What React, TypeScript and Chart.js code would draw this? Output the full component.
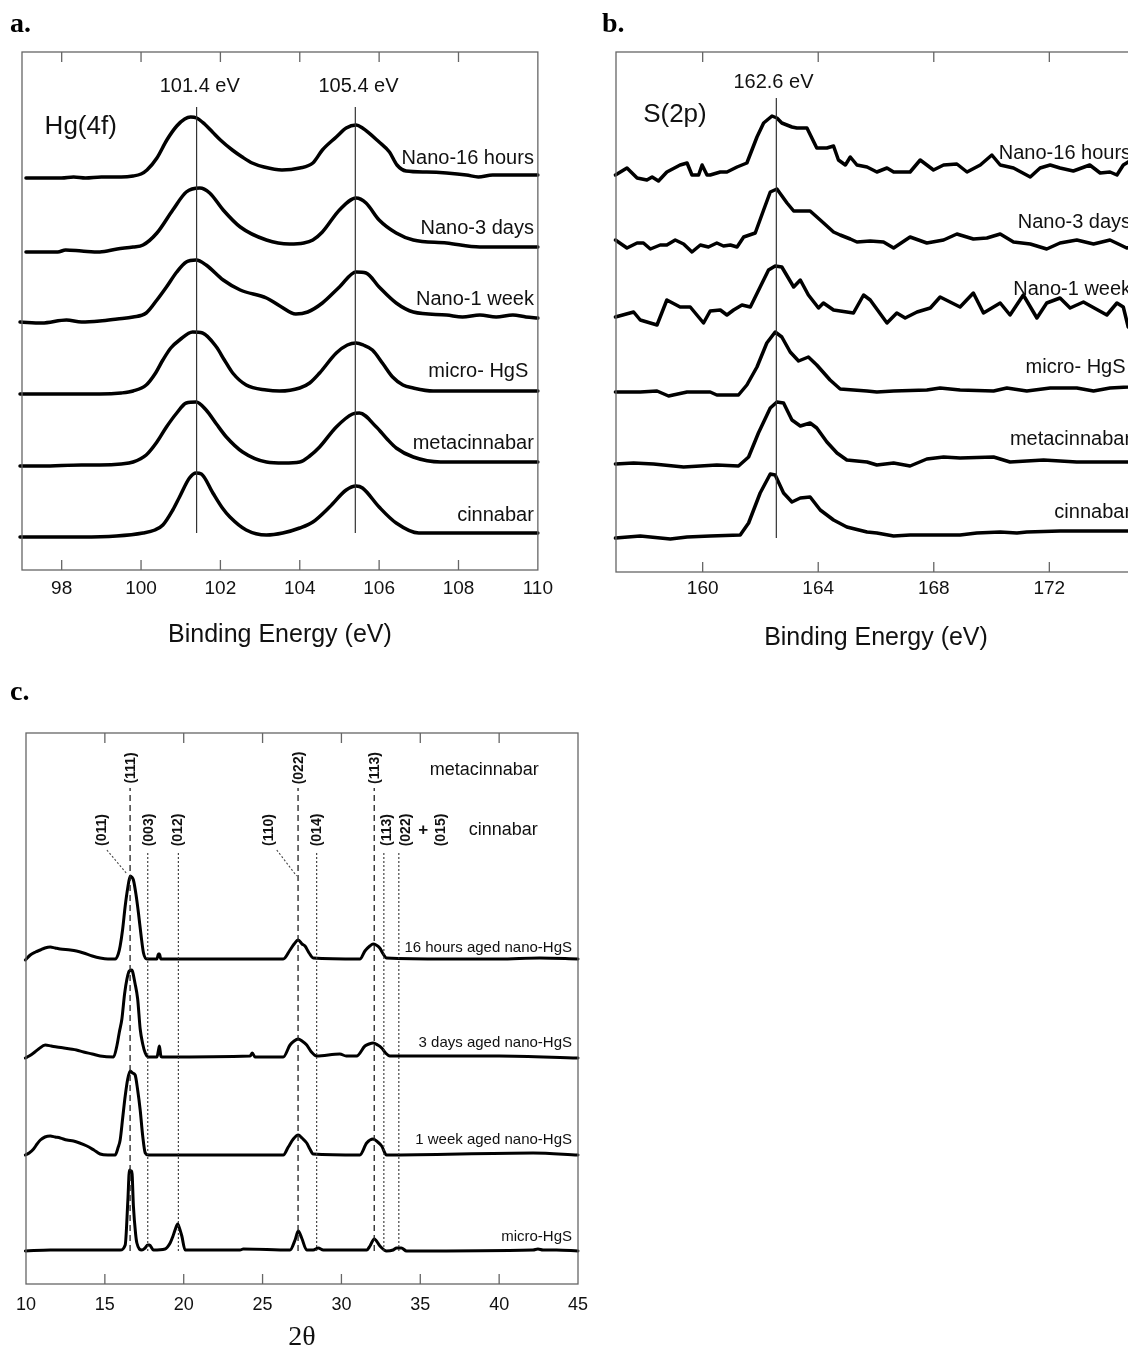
import React, { useEffect, useRef } from "react";
import { Chart, registerables } from "chart.js";

Chart.register(...registerables);

type P = [number, number];

const SANS = "'Liberation Sans', Arial, Helvetica, sans-serif";
const SERIF = "'Liberation Serif', 'Times New Roman', serif";
const INK = "#111";
const AXIS = "#666";

// ---------------- Panel a : Hg(4f) XPS (binding energy eV, intensity a.u. offset) ----------------
const A_TICKS = [98, 100, 102, 104, 106, 108, 110];
const A_PEAKS = [101.4, 105.4];
const A_PEAK_LABELS = ["101.4 eV", "105.4 eV"];
const A_SERIES = ["Nano-16 hours", "Nano-3 days", "Nano-1 week", "micro- HgS ", "metacinnabar", "cinnabar"];
const A_LABEL_Y = [412, 342, 271, 199, 127, 55];

const A_NANO16: P[] = [[97.1,392],[97.5,392],[98.0,392],[98.3,393],[98.6,392],[99.0,393],[99.5,393],[99.8,394],[100.0,396],[100.15,400],[100.4,412],[100.65,430],[100.9,444],[101.1,451],[101.25,453],[101.4,452],[101.6,446],[101.8,438],[102.0,430],[102.3,420],[102.55,413],[102.8,407],[103.1,403],[103.55,400],[104.0,402],[104.33,407],[104.57,420],[104.92,433],[105.17,442],[105.42,445],[105.58,442],[106.0,428],[106.26,418],[106.45,405],[106.68,399],[107.2,398],[107.7,397],[108.2,395],[108.5,393],[108.86,395],[109.36,395],[110.0,395]];
const A_NANO3D: P[] = [[97.1,318],[97.9,318],[98.1,320],[98.5,319],[98.96,318],[99.4,321],[99.8,323],[100.05,325],[100.4,337],[100.8,360],[101.14,378],[101.48,382],[101.73,377],[102.07,360],[102.5,343],[103.16,330],[103.74,326],[104.1,327],[104.33,330],[104.57,338],[105.0,360],[105.42,372],[105.67,367],[106.0,350],[106.43,337],[106.86,330],[107.7,327],[108.54,323],[109.37,323],[110.0,323]];
const A_NANO1W: P[] = [[96.95,248],[97.5,247],[98.12,250],[98.5,248],[98.96,249],[99.4,251],[99.8,253],[100.13,257],[100.4,270],[100.64,283],[100.9,298],[101.14,308],[101.39,310],[101.64,305],[102.07,290],[102.5,280],[103.16,272],[103.5,264],[103.9,256],[104.2,258],[104.57,267],[105.0,283],[105.42,298],[105.67,297],[106.0,283],[106.43,267],[106.86,258],[107.7,255],[108.1,253],[108.54,255],[108.95,253],[109.37,255],[109.7,253],[110.0,252]];
const A_MICRO: P[] = [[96.95,176],[97.5,176],[98.3,176],[98.96,176],[99.5,177],[99.8,179],[100.13,185],[100.35,196],[100.55,210],[100.75,222],[100.97,230],[101.3,238],[101.55,237],[101.9,223],[102.1,210],[102.31,197],[102.65,185],[103.16,180],[103.49,179],[104.0,182],[104.25,187],[104.5,197],[104.92,217],[105.2,225],[105.42,227],[105.6,225],[105.83,220],[106.1,206],[106.34,193],[106.6,185],[106.86,182],[107.36,179],[108.0,179],[109.0,179],[110.0,179]];
const A_META: P[] = [[96.95,104],[97.5,104],[98.5,105],[98.96,105],[99.5,106],[99.8,108],[100.13,115],[100.4,128],[100.64,143],[100.9,157],[101.14,167],[101.39,168],[101.64,160],[101.9,146],[102.15,133],[102.56,118],[103.16,108],[103.6,107],[104.0,108],[104.25,114],[104.5,123],[104.92,143],[105.33,156],[105.5,157],[105.93,143],[106.2,131],[106.43,122],[106.86,113],[107.55,108],[110.0,108]];
const A_CINN: P[] = [[96.95,33],[97.5,33],[98.5,33],[99.38,34],[100.05,37],[100.35,40],[100.55,45],[100.8,60],[100.97,73],[101.22,92],[101.39,97],[101.52,96],[101.81,77],[102.05,62],[102.24,53],[102.65,40],[103.16,35],[103.57,37],[104.0,42],[104.33,48],[104.75,63],[105.17,80],[105.42,84],[105.58,82],[106.0,63],[106.43,47],[107.0,37],[107.7,37],[110.0,37]];

// ---------------- Panel b : S(2p) XPS ----------------
const B_TICKS = [160, 164, 168, 172];
const B_PEAK = 162.55;
const B_PEAK_LABEL = "162.6 eV";
const B_SERIES = ["Nano-16 hours", "Nano-3 days", "Nano-1 week", "micro- HgS ", "metacinnabar", "cinnabar"];
const B_LABEL_Y = [419, 350, 283, 205, 133, 60];

const B_NANO16: P[] = [[156.98,397],[157.38,404],[157.73,394],[158.07,392],[158.25,395],[158.47,391],[158.76,400],[159.22,407],[159.46,409],[159.63,397],[159.86,397],[159.98,407],[160.15,397],[160.26,397],[160.61,400],[160.84,400],[161.19,405],[161.53,409],[161.88,435],[162.11,449],[162.4,456],[162.57,454],[162.74,449],[163.09,445],[163.26,444],[163.61,444],[163.95,424],[164.3,424],[164.53,426],[164.7,412],[164.94,407],[165.11,415],[165.34,407],[165.69,405],[166.03,400],[166.38,404],[166.61,400],[167.18,400],[167.53,412],[167.99,402],[168.34,407],[168.8,408],[169.15,400],[169.61,407],[169.89,414],[170.01,417],[170.3,407],[170.76,404],[171.34,395],[171.68,404],[172.03,407],[172.37,404],[172.83,401],[173.4,407],[173.76,399],[174.1,400],[174.34,397],[174.56,407],[174.73,410],[175.0,413]];
const B_NANO3D: P[] = [[156.98,332],[157.38,324],[157.73,329],[157.95,329],[158.19,323],[158.53,327],[158.76,327],[159.05,332],[159.34,328],[159.63,320],[159.92,327],[160.2,325],[160.49,329],[160.72,326],[160.96,327],[161.19,325],[161.42,335],[161.82,339],[162.11,362],[162.34,380],[162.57,383],[162.92,369],[163.15,361],[163.72,361],[164.07,352],[164.53,340],[164.76,337],[165.11,333],[165.34,330],[165.8,331],[166.26,330],[166.61,324],[167.18,335],[167.76,329],[168.34,332],[168.8,338],[169.37,333],[169.84,334],[170.3,338],[170.76,330],[171.34,328],[171.91,323],[172.37,329],[172.95,332],[173.53,328],[174.1,332],[174.68,324],[175.0,326]];
const B_NANO1W: P[] = [[156.98,255],[157.61,260],[157.84,252],[158.42,247],[158.76,272],[159.22,265],[159.57,265],[159.8,257],[160.03,249],[160.26,261],[160.61,262],[160.84,257],[161.07,262],[161.36,267],[161.65,265],[161.99,285],[162.28,302],[162.51,306],[162.74,305],[163.15,285],[163.38,292],[163.66,277],[164.01,264],[164.18,269],[164.53,262],[164.76,261],[165.22,259],[165.57,277],[165.8,272],[166.38,249],[166.72,259],[167.01,254],[167.42,260],[167.88,264],[168.22,275],[168.91,265],[169.37,279],[169.72,259],[170.3,269],[170.64,257],[171.1,277],[171.57,254],[171.91,269],[172.37,274],[172.72,264],[173.18,270],[173.99,257],[174.34,269],[174.56,265],[174.73,245],[175.0,240]];
const B_MICRO: P[] = [[156.98,180],[157.84,180],[158.42,181],[158.82,176],[159.46,180],[160.26,180],[160.49,177],[161.24,177],[161.53,187],[161.88,205],[162.22,229],[162.51,240],[162.74,235],[163.03,220],[163.32,211],[163.66,215],[163.95,207],[164.41,192],[164.76,183],[165.69,181],[166.03,180],[166.61,181],[167.76,182],[168.22,184],[168.91,182],[170.07,181],[170.53,184],[171.22,181],[172.03,184],[172.95,184],[173.53,181],[174.1,184],[174.73,185],[175.0,186]];
const B_META: P[] = [[156.98,108],[157.61,109],[158.3,108],[159.34,105],[160.49,107],[161.24,106],[161.59,115],[161.93,139],[162.34,164],[162.57,170],[162.8,169],[163.09,152],[163.38,146],[163.72,149],[163.95,144],[164.3,130],[164.65,119],[164.99,112],[165.69,110],[166.03,107],[166.61,109],[167.18,106],[167.76,113],[168.34,115],[168.91,114],[170.07,115],[170.64,110],[171.8,112],[172.95,110],[174.1,110],[175.0,110]];
const B_CINN: P[] = [[156.98,34],[157.84,36],[158.88,33],[159.46,35],[160.26,36],[161.3,37],[161.59,49],[161.99,79],[162.34,98],[162.51,97],[162.8,79],[163.09,70],[163.38,74],[163.72,75],[164.07,62],[164.53,52],[164.99,45],[165.69,40],[166.03,39],[166.61,36],[167.18,37],[167.76,37],[168.91,37],[169.49,39],[170.3,40],[170.88,39],[171.22,40],[172.37,41],[173.53,41],[175.0,41]];

// ---------------- Panel c : XRD (2θ, intensity offset) ----------------
const C_TICKS = [10, 15, 20, 25, 30, 35, 40, 45];
const C_SERIES = ["16 hours aged nano-HgS", "3 days aged nano-HgS", "1 week aged nano-HgS", "micro-HgS"];
const C_LABEL_Y = [336, 241, 144, 47];
const C_META_POS = [16.6, 27.25, 32.08];
const C_META_HKL = ["(111)", "(022)", "(113)"];
const C_CINN_POS = [17.72, 19.66, 28.43, 32.69, 33.64];
const C_CINN_HKL = ["(011)", "(003)", "(012)", "(110)", "(014)", "(113)", "(022)", "+", "(015)"];
const C_CINN_HKL_X = [14.81, 17.8, 19.66, 25.4, 28.48, 32.91, 34.13, 35.18, 36.35];
const C_LEADERS: P[][] = [[[15.13, 434], [16.35, 411]], [[25.9, 434], [27.16, 408]]];

const C_16H: P[] = [[9.96,324],[10.27,329],[10.6,332],[10.91,334],[11.2,336],[11.54,337],[11.85,336],[12.17,335],[12.81,334],[13.2,333],[13.65,331],[14.2,328],[14.7,326],[15.2,325],[15.65,325],[15.85,330],[15.97,338],[16.13,355],[16.29,378],[16.45,396],[16.61,408],[16.7,407],[16.81,404],[16.97,390],[17.13,371],[17.3,348],[17.45,331],[17.66,325],[18.3,325],[18.4,330],[18.46,330],[18.55,325],[21.04,325],[26.31,325],[26.74,334],[27.0,340],[27.26,344],[27.5,340],[27.69,338],[27.95,331],[28.21,326],[31.17,325],[31.49,333],[31.8,338],[32.01,340],[32.2,339],[32.43,336],[32.65,330],[32.86,326],[36.66,325],[40,325],[42.57,326],[45.0,325]];
const C_3D: P[] = [[9.96,226],[10.2,228],[10.48,231],[10.8,235],[11.22,239],[11.6,238],[11.96,237],[12.4,236],[12.81,235],[13.2,234],[13.65,232],[14.2,230],[14.7,228],[15.55,227],[15.76,238],[15.92,252],[16.08,265],[16.25,290],[16.4,305],[16.55,313],[16.7,314],[16.92,300],[17.08,285],[17.24,255],[17.4,240],[17.56,231],[17.76,227],[18.3,227],[18.4,234],[18.46,238],[18.55,228],[18.61,227],[24.21,228],[24.35,231],[24.52,227],[26.31,227],[26.74,239],[27.0,243],[27.26,245],[27.5,243],[27.8,239],[28.1,232],[28.43,228],[29.9,230],[30.3,228],[30.96,228],[31.49,238],[31.75,240],[32.01,241],[32.3,239],[32.55,236],[32.8,231],[33.07,228],[40,228],[45.0,226]];
const C_1W: P[] = [[9.96,129],[10.2,131],[10.48,135],[10.7,140],[10.91,144],[11.2,147],[11.54,148],[11.85,147],[12.17,146],[12.6,144],[13.01,143],[13.4,141],[13.86,138],[14.3,134],[14.7,130],[15.2,129],[15.65,129],[15.85,137],[15.97,144],[16.13,166],[16.29,188],[16.45,205],[16.61,213],[16.75,211],[16.92,209],[17.08,194],[17.24,174],[17.4,148],[17.56,131],[17.76,129],[26.31,129],[26.63,137],[26.95,145],[27.26,149],[27.5,146],[27.8,141],[28.0,135],[28.21,130],[31.17,129],[31.6,141],[32.01,145],[32.3,142],[32.55,138],[32.86,129],[42.15,131],[45.0,129]];
const C_MICRO: P[] = [[9.96,33],[11.54,34],[13.86,34],[15.97,34],[16.29,39],[16.46,84],[16.56,114],[16.66,113],[16.71,113],[16.81,78],[16.95,50],[17.03,41],[17.35,34],[17.55,36],[17.72,39],[17.83,39],[18.08,34],[18.82,35],[19.14,41],[19.3,47],[19.45,54],[19.62,60],[19.66,59],[19.88,48],[20.09,34],[23.57,34],[23.78,35],[26.74,34],[27.06,44],[27.26,53],[27.48,46],[27.8,34],[28.21,34],[28.53,36],[28.85,34],[31.6,34],[31.81,38],[32.08,45],[32.44,38],[32.86,33],[33.28,34],[33.5,36],[33.8,36],[34.13,33],[42.15,34],[42.46,35],[42.78,34],[43.63,34],[45.0,33]];

// ---------------- helpers ----------------
type Note = { text: string; x: number; y: number; font: string; align?: CanvasTextAlign; rotate?: boolean };

const toXY = (pts: P[]) => pts.map(([x, y]) => ({ x, y }));

function curve(pts: P[], width: number, smooth: boolean) {
  return {
    data: toXY(pts),
    borderColor: "#000",
    borderWidth: width,
    pointRadius: 0,
    fill: false,
    tension: 0,
    cubicInterpolationMode: smooth ? "monotone" : "default",
    borderJoinStyle: "round",
    borderCapStyle: "round",
    clip: 6,
  };
}

function refLine(pts: P[], dash: number[], width: number, color: string) {
  return {
    data: toXY(pts),
    borderColor: color,
    borderWidth: width,
    borderDash: dash,
    pointRadius: 0,
    fill: false,
    tension: 0,
  };
}

function framePlugin(notes: Note[]) {
  return {
    id: "frame",
    afterDraw(chart: any) {
      const { ctx, chartArea: a, scales } = chart;
      const xs = scales.x;
      const ys = scales.y;
      ctx.save();
      ctx.strokeStyle = AXIS;
      ctx.lineWidth = 1.3;
      ctx.setLineDash([]);
      ctx.strokeRect(a.left, a.top, a.right - a.left, a.bottom - a.top);
      ctx.beginPath();
      xs.ticks.forEach((t: any) => {
        const px = xs.getPixelForValue(t.value);
        if (px < a.left + 2 || px > a.right - 2) return;
        ctx.moveTo(px, a.bottom);
        ctx.lineTo(px, a.bottom - 10);
        ctx.moveTo(px, a.top);
        ctx.lineTo(px, a.top + 10);
      });
      ctx.stroke();
      ctx.fillStyle = INK;
      ctx.textBaseline = "middle";
      notes.forEach((n) => {
        const px = xs.getPixelForValue(n.x);
        const py = ys.getPixelForValue(n.y);
        ctx.save();
        ctx.translate(px, py);
        if (n.rotate) ctx.rotate(-Math.PI / 2);
        ctx.font = n.font;
        ctx.textAlign = n.align || "center";
        ctx.fillText(n.text, 0, 0);
        ctx.restore();
      });
      ctx.restore();
    },
  };
}

function xAxis(min: number, max: number, ticks: number[], height: number, tickSize: number, tickPad: number, title: string, titleFont: string, titleSize: number, titlePad: number) {
  return {
    type: "linear",
    min,
    max,
    afterBuildTicks: (s: any) => {
      s.ticks = ticks.map((v) => ({ value: v }));
    },
    afterFit: (s: any) => {
      s.height = height;
    },
    grid: { display: false, drawTicks: false },
    border: { display: false },
    ticks: {
      autoSkip: false,
      maxRotation: 0,
      minRotation: 0,
      padding: tickPad,
      color: INK,
      font: { family: SANS, size: tickSize },
      callback: (v: any) => String(v),
    },
    title: {
      display: true,
      text: title,
      color: INK,
      font: { family: titleFont, size: titleSize },
      padding: { top: 0, bottom: titlePad },
    },
  };
}

function baseOptions(padding: any, x: any, yMax: number) {
  return {
    responsive: false,
    animation: false,
    devicePixelRatio: 1,
    layout: { padding },
    plugins: { legend: { display: false }, tooltip: { enabled: false } },
    scales: {
      x,
      y: { type: "linear", min: 0, max: yMax, display: false },
    },
  };
}

// ---------------- configs ----------------
function configA(): any {
  const notes: Note[] = [
    { text: "Hg(4f)", x: 97.57, y: 443, font: `26px ${SANS}`, align: "left" },
    ...A_PEAK_LABELS.map((t, i) => ({ text: t, x: A_PEAKS[i] + 0.08, y: 484, font: `20px ${SANS}` })),
    ...A_SERIES.map((t, i) => ({ text: t, x: 109.9, y: A_LABEL_Y[i], font: `20px ${SANS}`, align: "right" as CanvasTextAlign })),
  ];
  return {
    type: "line",
    data: {
      datasets: [
        ...A_PEAKS.map((p) => refLine([[p, 37], [p, 463]], [], 1.2, "#333")),
        ...[A_NANO16, A_NANO3D, A_NANO1W, A_MICRO, A_META, A_CINN].map((s) => curve(s, 3.5, true)),
      ],
    },
    options: baseOptions(
      { left: 22, top: 52, right: 21, bottom: 0 },
      xAxis(97, 110, A_TICKS, 90, 19, 7, "Binding Energy (eV)", SANS, 25, 10),
      518
    ),
    plugins: [framePlugin(notes)],
  };
}

function configB(): any {
  const notes: Note[] = [
    { text: "S(2p)", x: 157.94, y: 457, font: `26px ${SANS}`, align: "left" },
    { text: B_PEAK_LABEL, x: 162.45, y: 490, font: `20px ${SANS}` },
    ...B_SERIES.map((t, i) => ({ text: t, x: 174.83, y: B_LABEL_Y[i], font: `20px ${SANS}`, align: "right" as CanvasTextAlign })),
  ];
  return {
    type: "line",
    data: {
      datasets: [
        refLine([[B_PEAK, 34], [B_PEAK, 474]], [], 1.2, "#333"),
        ...[B_NANO16, B_NANO3D, B_NANO1W, B_MICRO, B_META, B_CINN].map((s) => curve(s, 3.5, false)),
      ],
    },
    options: baseOptions(
      { left: 16, top: 52, right: 24, bottom: 0 },
      xAxis(157, 175, B_TICKS, 88, 19, 5, "Binding Energy (eV)", SANS, 25, 7),
      520
    ),
    plugins: [framePlugin(notes)],
  };
}

function configC(): any {
  const notes: Note[] = [
    ...C_META_HKL.map((t, i) => ({ text: t, x: C_META_POS[i] + 0.05, y: 516, font: `bold 14px ${SANS}`, rotate: true })),
    ...C_CINN_HKL.map((t, i) => ({ text: t, x: C_CINN_HKL_X[i], y: 454, font: `bold ${t === "+" ? 17 : 14}px ${SANS}`, rotate: t !== "+" })),
    { text: "metacinnabar", x: 35.6, y: 514, font: `18px ${SANS}`, align: "left" },
    { text: "cinnabar", x: 38.07, y: 454, font: `18px ${SANS}`, align: "left" },
    ...C_SERIES.map((t, i) => ({ text: t, x: 44.62, y: C_LABEL_Y[i], font: `15px ${SANS}`, align: "right" as CanvasTextAlign })),
  ];
  return {
    type: "line",
    data: {
      datasets: [
        ...C_META_POS.map((p) => refLine([[p, 33], [p, 496]], [6, 4], 1.3, "#222")),
        ...C_CINN_POS.map((p) => refLine([[p, 33], [p, 433]], [2, 2], 1.1, "#333")),
        ...C_LEADERS.map((l) => refLine(l, [2, 2], 1.1, "#444")),
        ...[C_16H, C_3D, C_1W, C_MICRO].map((s) => curve(s, 3, true)),
      ],
    },
    options: baseOptions(
      { left: 26, top: 63, right: 22, bottom: 0 },
      xAxis(10, 45, C_TICKS, 76, 18, 10, "2θ", SERIF, 28, 6),
      551
    ),
    plugins: [framePlugin(notes)],
  };
}

// ---------------- components ----------------
function ChartCanvas({ make, left, top, width, height }: { make: () => any; left: number; top: number; width: number; height: number }) {
  const ref = useRef<HTMLCanvasElement>(null);
  useEffect(() => {
    if (!ref.current) return;
    const chart = new Chart(ref.current, make());
    return () => chart.destroy();
  }, []);
  return (
    <canvas
      ref={ref}
      width={width}
      height={height}
      style={{ position: "absolute", left, top, width, height }}
    />
  );
}

const panelLabel = (text: string, left: number, top: number) => (
  <div
    style={{
      position: "absolute",
      left,
      top,
      font: `bold 28px ${SERIF}`,
      lineHeight: "28px",
      color: "#000",
    }}
  >
    {text}
  </div>
);

export default function App() {
  return (
    <div
      style={{
        position: "absolute",
        left: 0,
        top: 0,
        width: 1128,
        height: 1350,
        overflow: "hidden",
        background: "#fff",
      }}
    >
      <ChartCanvas make={configA} left={0} top={0} width={560} height={660} />
      <ChartCanvas make={configB} left={600} top={0} width={560} height={660} />
      <ChartCanvas make={configC} left={0} top={670} width={600} height={690} />
      {panelLabel("a.", 10, 9)}
      {panelLabel("b.", 602, 9)}
      {panelLabel("c.", 10, 677)}
    </div>
  );
}
